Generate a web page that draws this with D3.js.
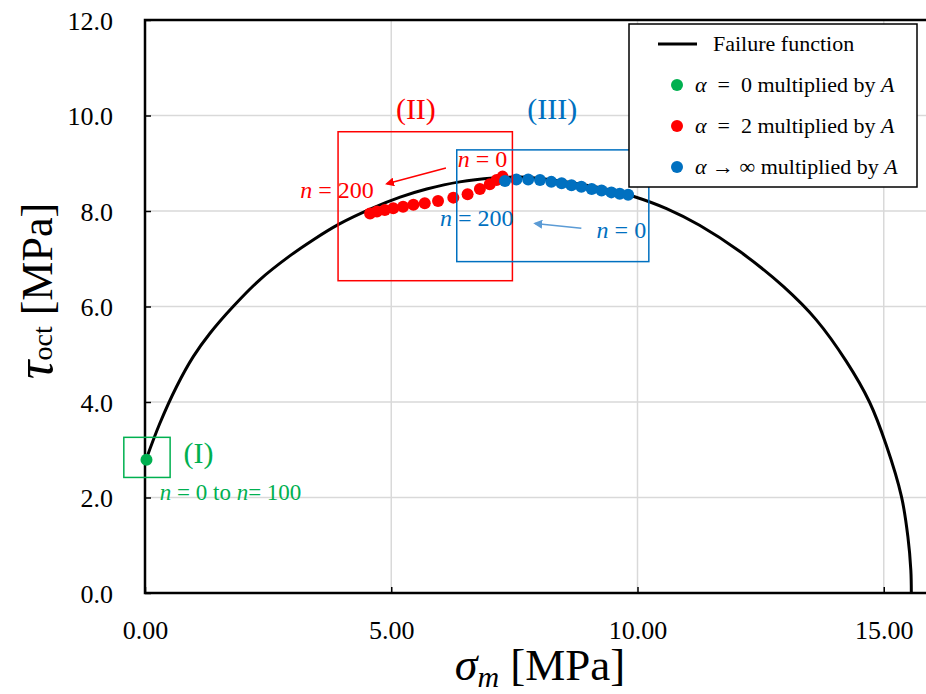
<!DOCTYPE html>
<html>
<head>
<meta charset="utf-8">
<script src="https://cdn.jsdelivr.net/npm/d3@7"></script>
<style>
  body { margin: 0; background: #fff; }
  svg text { font-family: "Liberation Serif", "Times New Roman", serif; }
</style>
</head>
<body>
<div id="chart"></div>
<script>
// failure function
const failureSigma = [0.02, 0.30, 0.64, 0.98, 1.32, 1.79, 2.33, 2.94, 3.42, 3.93, 4.62, 5.18, 5.72, 6.39, 7.07, 7.60, 8.20, 8.90, 9.40, 9.91, 10.59, 11.26, 12.08, 12.96, 13.63, 14.24, 14.71, 15.05, 15.36, 15.49, 15.55, 15.56];
const failureTau = [2.79, 3.55, 4.32, 4.95, 5.44, 6.00, 6.56, 7.06, 7.40, 7.72, 8.06, 8.29, 8.46, 8.61, 8.69, 8.71, 8.66, 8.55, 8.45, 8.31, 8.05, 7.70, 7.15, 6.42, 5.72, 4.85, 4.00, 3.10, 2.02, 1.18, 0.48, 0.0];

const alpha0Sigma = [0.03];
const alpha0Tau = [2.79];

const alpha2Sigma = [4.57, 4.71, 4.87, 5.04, 5.24, 5.45, 5.68, 5.95, 6.26, 6.55, 6.80, 7.00, 7.14, 7.26];
const alpha2Tau = [7.95, 7.99, 8.02, 8.06, 8.09, 8.13, 8.16, 8.21, 8.28, 8.35, 8.46, 8.56, 8.65, 8.72];

const alphaInfSigma = [7.31, 7.54, 7.78, 8.02, 8.25, 8.46, 8.66, 8.86, 9.07, 9.27, 9.47, 9.64, 9.81];
const alphaInfTau = [8.63, 8.66, 8.66, 8.65, 8.61, 8.58, 8.54, 8.51, 8.46, 8.43, 8.39, 8.36, 8.34];

const xTicks = [0, 5, 10, 15];
const yTicks = [0, 2, 4, 6, 8, 10, 12];

const green = '#00b050', red = '#ff0000', blue = '#0070c0', lightBlue = '#5b9bd5';
const serif = '"Liberation Serif", "Times New Roman", serif';

let width = 926, height = 694;

let svg = d3.select('#chart').append('svg')
    .attr('width', width)
    .attr('height', height)
    .style('font-family', serif);

let x = d3.scaleLinear().domain([0, 16]).range([145, 933]);
let y = d3.scaleLinear().domain([0, 12]).range([593, 20]);

// grid
svg.append('g').selectAll('line')
    .data(xTicks.filter(d => d > 0))
    .join('line')
    .attr('x1', d => x(d)).attr('x2', d => x(d))
    .attr('y1', y(0)).attr('y2', y(12))
    .attr('stroke', '#d9d9d9').attr('stroke-width', 1.5);
svg.append('g').selectAll('line')
    .data(yTicks.filter(d => d > 0 && d < 12))
    .join('line')
    .attr('x1', x(0)).attr('x2', x(16))
    .attr('y1', d => y(d)).attr('y2', d => y(d))
    .attr('stroke', '#d9d9d9').attr('stroke-width', 1.5);

// axes (ticks inward)
let xAxis = svg.append('g')
    .attr('transform', `translate(0, ${y(0)})`)
    .call(d3.axisBottom(x).tickValues(xTicks).tickFormat(d3.format('.2f'))
        .tickSizeInner(-6).tickSizeOuter(0).tickPadding(28));
let yAxis = svg.append('g')
    .attr('transform', `translate(${x(0)}, 0)`)
    .call(d3.axisLeft(y).tickValues(yTicks).tickFormat(d3.format('.1f'))
        .tickSizeInner(-6).tickSizeOuter(0).tickPadding(32));

[xAxis, yAxis].forEach(g => {
    g.attr('font-family', null).attr('font-size', null);
    g.select('.domain').remove();
    g.selectAll('.tick line').attr('stroke', '#000').attr('stroke-width', 1.5);
    g.selectAll('.tick text')
        .attr('fill', '#000')
        .style('font-size', '26px')
        .style('font-family', serif);
});
yAxis.selectAll('.tick text').attr('dy', '0.35em');

// frame
svg.append('rect')
    .attr('x', x(0)).attr('y', y(12))
    .attr('width', x(16) - x(0)).attr('height', y(0) - y(12))
    .attr('fill', 'none').attr('stroke', '#000').attr('stroke-width', 2.5);

// failure curve
let failure = failureSigma.map((s, i) => [s, failureTau[i]]);
svg.append('path')
    .datum(failure)
    .attr('fill', 'none')
    .attr('stroke', '#000')
    .attr('stroke-width', 3)
    .attr('d', d3.line().x(d => x(d[0])).y(d => y(d[1])).curve(d3.curveCatmullRom.alpha(0.5)));

function drawPoints(sig, tau, color) {
    svg.append('g').selectAll('circle')
        .data(sig.map((s, i) => [s, tau[i]]))
        .join('circle')
        .attr('cx', d => x(d[0]))
        .attr('cy', d => y(d[1]))
        .attr('r', 6)
        .attr('fill', color);
}
drawPoints(alpha2Sigma, alpha2Tau, red);
drawPoints(alphaInfSigma, alphaInfTau, blue);
drawPoints(alpha0Sigma, alpha0Tau, green);

// region boxes [x0, x1, y0, y1] in data units
const boxRanges = [[-0.43, 0.51, 3.26, 2.42], [3.92, 7.46, 9.66, 6.54], [6.33, 10.23, 9.28, 6.94]];
const boxColors = [green, red, blue];
svg.append('g').selectAll('rect')
    .data(boxRanges)
    .join('rect')
    .attr('x', d => x(d[0]))
    .attr('y', d => y(d[2]))
    .attr('width', d => x(d[1]) - x(d[0]))
    .attr('height', d => y(d[3]) - y(d[2]))
    .attr('fill', 'none')
    .attr('stroke', (d, i) => boxColors[i])
    .attr('stroke-width', 1.5);

// arrows
let defs = svg.append('defs');
[['ahRed', red], ['ahBlue', lightBlue]].forEach(([id, c]) => {
    defs.append('marker')
        .attr('id', id)
        .attr('viewBox', '0 0 10 10')
        .attr('refX', 8).attr('refY', 5)
        .attr('markerWidth', 6).attr('markerHeight', 6)
        .attr('orient', 'auto')
        .append('path').attr('d', 'M0,0L10,5L0,10z').attr('fill', c);
});
const arrows = [[6.11, 8.90, 4.91, 8.57, red, 'ahRed'], [8.86, 7.64, 7.92, 7.74, lightBlue, 'ahBlue']];
svg.append('g').selectAll('line')
    .data(arrows)
    .join('line')
    .attr('x1', d => x(d[0])).attr('y1', d => y(d[1]))
    .attr('x2', d => x(d[2])).attr('y2', d => y(d[3]))
    .attr('stroke', d => d[4])
    .attr('stroke-width', 1.5)
    .attr('marker-end', d => `url(#${d[5]})`);

// rich text: parts are [string, italic]
function rich(g, parts, attrs) {
    let t = g.append('text');
    Object.entries(attrs).forEach(([k, v]) => t.attr(k, v));
    parts.forEach(([s, it]) => {
        t.append('tspan').text(s).style('font-style', it ? 'italic' : 'normal');
    });
    return t;
}

let notes = svg.append('g');
rich(notes, [['(I)', false]], {x: x(0.78), y: y(2.72), fill: green, 'font-size': 30});
rich(notes, [['(II)', false]], {x: x(5.50), y: y(9.92), fill: red, 'font-size': 30, 'text-anchor': 'middle'});
rich(notes, [['(III)', false]], {x: x(8.27), y: y(9.92), fill: blue, 'font-size': 30, 'text-anchor': 'middle'});
rich(notes, [['n', true], [' = 0 to ', false], ['n', true], ['= 100', false]], {x: x(0.30), y: y(1.95), fill: green, 'font-size': 23});
rich(notes, [['n', true], [' = 0', false]], {x: x(6.35), y: y(8.92), fill: red, 'font-size': 24});
rich(notes, [['n', true], [' = 200', false]], {x: x(3.15), y: y(8.27), fill: red, 'font-size': 24});
rich(notes, [['n', true], [' = 200', false]], {x: x(5.99), y: y(7.69), fill: blue, 'font-size': 24});
rich(notes, [['n', true], [' = 0', false]], {x: x(9.17), y: y(7.43), fill: blue, 'font-size': 24});

// axis titles
let xt = svg.append('text')
    .attr('x', 540).attr('y', 680)
    .attr('text-anchor', 'middle')
    .attr('font-size', 45);
xt.append('tspan').text('σ').style('font-style', 'italic').attr('font-size', 46);
xt.append('tspan').text('m').style('font-style', 'italic').attr('font-size', 30).attr('dy', 7);
xt.append('tspan').text(' [MPa]').attr('dy', -7);

let yt = svg.append('text')
    .attr('transform', 'translate(52, 291) rotate(-90)')
    .attr('text-anchor', 'middle')
    .attr('font-size', 44);
yt.append('tspan').text('τ').style('font-style', 'italic').attr('font-size', 52);
yt.append('tspan').text('oct').attr('font-size', 28);
yt.append('tspan').text(' [MPa]');

// legend
let legend = svg.append('g');
legend.append('rect')
    .attr('x', 629).attr('y', 24).attr('width', 288).attr('height', 163)
    .attr('fill', '#fff').attr('stroke', '#000').attr('stroke-width', 1.5);
legend.append('line')
    .attr('x1', 658).attr('x2', 697).attr('y1', 44).attr('y2', 44)
    .attr('stroke', '#000').attr('stroke-width', 3);
rich(legend, [['Failure function', false]], {x: 713, y: 51, 'font-size': 22});

const legendColors = [green, red, blue];
const legendParts = [
    [['α', true], ['\u2002=\u20020 multiplied by ', false], ['A', true]],
    [['α', true], ['\u2002=\u20022 multiplied by ', false], ['A', true]],
    [['α', true], [' → ∞ multiplied by ', false], ['A', true]]
];
legendParts.forEach((p, i) => {
    let cy = 85 + i * 41;
    legend.append('circle').attr('cx', 677).attr('cy', cy).attr('r', 6).attr('fill', legendColors[i]);
    rich(legend, p, {x: 695, y: cy + 7, 'font-size': 22});
});
</script>
</body>
</html>
